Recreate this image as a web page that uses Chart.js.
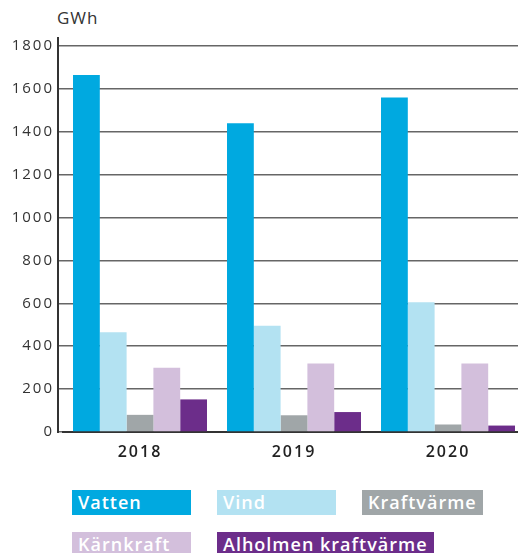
<!DOCTYPE html>
<html>
<head>
<meta charset="utf-8">
<script src="https://cdn.jsdelivr.net/npm/chart.js@4.4.1/dist/chart.umd.min.js"></script>
<style>
  body { margin: 0; width: 518px; height: 553px; overflow: hidden; position: relative; background: #fff; font-family: "Open Sans", sans-serif; }
  #unit { position: absolute; left: 57px; top: 6px; font-size: 17px; letter-spacing: 1px; color: #333; }
  #chart { position: absolute; left: 0; top: 0; }
  #legend { position: absolute; left: 72px; top: 490px; display: grid; grid-template-columns: 145px 145px 145px; row-gap: 17px; }
  .item { height: 25px; line-height: 25px; min-width: 107px; padding: 0 6px; color: #fff; font-size: 18px; font-weight: 600; letter-spacing: 1px; white-space: nowrap; justify-self: start; }
  .item.wide { grid-column: span 2; }
</style>
</head>
<body>
<div id="unit">GWh</div>
<canvas id="chart" width="525" height="470"></canvas>
<div id="legend"></div>
<script>
const categories = ["2018", "2019", "2020"];
const vatten = [1665, 1440, 1560];
const vind = [465, 495, 605];
const kraftvarme = [80, 78, 35];
const karnkraft = [300, 320, 320];
const alholmen = [152, 93, 30];
const seriesNames = ["Vatten", "Vind", "Kraftvärme", "Kärnkraft", "Alholmen kraftvärme"];
const seriesColors = ["#00a9e0", "#b3e2f2", "#a0a6a8", "#d3bfdc", "#6c2d8a"];

const values = [vatten, vind, kraftvarme, karnkraft, alholmen];

// the original font is wide, so space the canvas text out a bit
// (has to be set again after Chart.js resizes the canvas)
const spacing = {
  id: "spacing",
  beforeLayout(chart) { chart.ctx.letterSpacing = "2px"; },
  beforeDraw(chart) { chart.ctx.letterSpacing = "2px"; },
};

// vertical axis line sits a few px left of the plot, like the original
const axisLine = {
  id: "axisLine",
  afterDraw(chart) {
    const c = chart.ctx;
    const x = chart.chartArea.left - 5;
    c.save();
    c.strokeStyle = "#333";
    c.lineWidth = 2;
    c.beginPath();
    c.moveTo(x, chart.chartArea.top - 9);
    c.lineTo(x, chart.scales.y.getPixelForValue(0) + 1);
    c.stroke();
    c.restore();
  }
};

const ctx = document.getElementById("chart").getContext("2d");

const chart = new Chart(ctx, {
  type: "bar",
  data: {
    labels: categories,
    datasets: seriesNames.map((name, i) => ({
      label: name,
      data: values[i],
      backgroundColor: seriesColors[i],
      borderWidth: 0,
      categoryPercentage: 0.87,
      barPercentage: 1.0,
    })),
  },
  options: {
    responsive: false,
    animation: false,
    devicePixelRatio: 1,
    layout: { padding: { top: 46, left: 0, right: 0, bottom: 0 } },
    plugins: { legend: { display: false }, tooltip: { enabled: false } },
    scales: {
      x: {
        grid: { display: false, drawTicks: false },
        border: { color: "#333", width: 2 },
        ticks: { color: "#222", padding: 11, font: { family: "Open Sans", size: 16, weight: 600 } },
        afterFit(s) { s.height = 38; },
      },
      y: {
        min: 0,
        max: 1800,
        ticks: {
          stepSize: 200,
          color: "#333",
          padding: 4,
          font: { family: "Open Sans", size: 15 },
          callback: (v) => String(v),
        },
        grid: { color: "#666", lineWidth: 1.5, tickLength: 5 },
        border: { display: false },
        afterFit(s) { s.width = 63; },
      },
    },
  },
  plugins: [spacing, axisLine],
});

const legend = document.getElementById("legend");
chart.data.datasets.forEach((ds, i) => {
  const d = document.createElement("div");
  d.className = "item" + (i === 4 ? " wide" : "");
  d.style.background = ds.backgroundColor;
  d.textContent = ds.label;
  legend.appendChild(d);
});
</script>
</body>
</html>
